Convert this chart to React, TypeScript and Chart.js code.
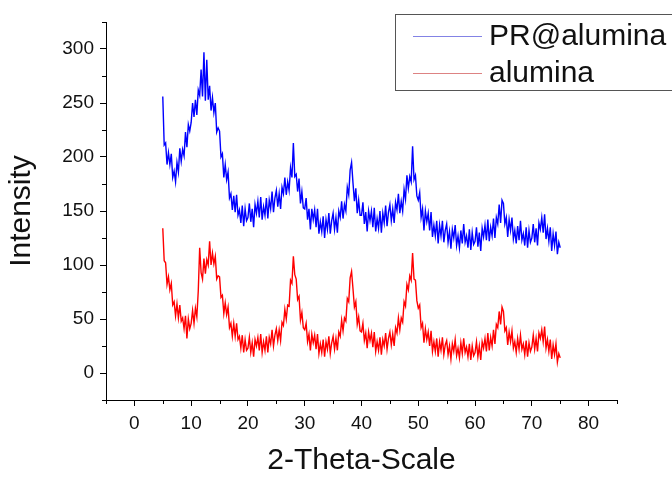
import { useEffect, useRef } from 'react';
import { Chart, registerables } from 'chart.js';

Chart.register(...registerables);

// 2-theta sampling grid of the values
const THETA_START = 5;
const THETA_STEP = 0.25;

const seriesLabels = ['PR@alumina', 'alumina'];
const seriesColors = ['#0000ff', '#ff0000'];
const legendLineColors = ['rgba(90,90,220,0.75)', 'rgba(210,90,90,0.75)'];

const xMajorTicks = [0, 10, 20, 30, 40, 50, 60, 70, 80];
const yMajorTicks = [0, 50, 100, 150, 200, 250, 300];

const xTitle = '2-Theta-Scale';
const yTitle = 'Intensity';

// PR@alumina, 5.00 .. 75.00 step 0.25
const prAlumina = [
  256, 211, 213, 193, 204, 193, 203, 181, 187, 177, 195, 186, 208, 196, 207, 201, 223, 209, 230, 224,
  232, 250, 237, 253, 239, 262, 257, 281, 256, 297, 252, 290, 253, 266, 243, 255, 241, 250, 223, 227,
  224, 200, 203, 181, 193, 179, 186, 162, 166, 151, 164, 149, 165, 146, 151, 139, 155, 136, 152, 141,
  144, 157, 140, 152, 135, 156, 148, 159, 144, 163, 142, 154, 146, 162, 143, 160, 152, 168, 149, 162,
  169, 154, 166, 152, 172, 166, 181, 165, 177, 169, 190, 181, 213, 182, 184, 168, 180, 157, 168, 153,
  152, 162, 142, 152, 133, 152, 142, 151, 135, 152, 129, 140, 131, 145, 125, 142, 133, 148, 129, 141,
  148, 133, 144, 130, 150, 144, 159, 143, 156, 150, 172, 165, 188, 195, 176, 159, 171, 148, 160, 146,
  146, 158, 138, 149, 131, 150, 141, 150, 135, 153, 131, 143, 134, 150, 130, 148, 139, 155, 136, 149,
  156, 141, 152, 139, 158, 151, 166, 148, 159, 150, 170, 161, 183, 171, 182, 177, 210, 179, 183, 164,
  160, 167, 144, 152, 132, 150, 140, 148, 132, 149, 126, 137, 127, 141, 120, 137, 127, 141, 121, 132,
  138, 121, 131, 115, 133, 125, 137, 118, 127, 116, 132, 120, 138, 121, 127, 116, 133, 114, 130, 119,
  122, 135, 117, 130, 113, 134, 126, 137, 123, 142, 122, 135, 127, 143, 125, 144, 138, 156, 139, 160,
  157, 138, 144, 126, 142, 132, 144, 124, 132, 120, 136, 123, 141, 123, 129, 118, 135, 116, 132, 121,
  125, 138, 121, 134, 118, 139, 133, 144, 130, 147, 124, 134, 122, 135, 113, 129, 118, 131, 110, 121,
  116,
];

// alumina, 5.00 .. 75.00 step 0.25
const alumina = [
  134, 104, 102, 82, 89, 77, 83, 63, 66, 53, 64, 51, 63, 48, 51, 41, 53, 32, 50, 41,
  46, 58, 46, 60, 52, 76, 116, 93, 87, 106, 92, 105, 100, 122, 100, 111, 101, 108, 87, 90,
  89, 70, 72, 55, 65, 54, 61, 42, 46, 34, 46, 34, 46, 31, 34, 23, 35, 19, 31, 21,
  23, 33, 19, 28, 15, 31, 25, 33, 21, 36, 19, 29, 21, 34, 19, 33, 27, 40, 25, 35,
  41, 30, 40, 30, 47, 44, 59, 50, 63, 62, 86, 83, 108, 91, 87, 68, 71, 49, 56, 42,
  40, 46, 29, 36, 21, 36, 28, 35, 22, 36, 18, 27, 19, 31, 15, 29, 22, 34, 18, 28,
  34, 22, 32, 21, 38, 34, 49, 39, 51, 48, 69, 66, 88, 94, 78, 61, 66, 45, 52, 39,
  38, 46, 30, 37, 23, 38, 30, 37, 24, 38, 20, 29, 21, 33, 17, 31, 25, 37, 22, 32,
  38, 26, 36, 25, 42, 37, 51, 40, 51, 47, 66, 62, 82, 77, 90, 86, 111, 87, 86, 67,
  60, 63, 42, 46, 28, 41, 31, 38, 25, 39, 20, 29, 20, 32, 15, 29, 21, 33, 17, 26,
  30, 17, 25, 13, 27, 20, 31, 16, 23, 14, 28, 18, 32, 19, 24, 15, 27, 12, 25, 16,
  19, 29, 15, 25, 12, 29, 23, 32, 20, 37, 21, 33, 25, 40, 27, 45, 42, 57, 45, 61,
  57, 39, 42, 26, 38, 29, 39, 23, 29, 19, 32, 22, 35, 22, 27, 17, 30, 15, 28, 20,
  24, 35, 22, 32, 20, 37, 32, 40, 29, 43, 23, 31, 20, 31, 13, 26, 17, 27, 10, 18,
  14,
];

const FONT = '"Liberation Sans", Arial, sans-serif';

const toPoints = (arr: number[]) =>
  arr.map((y, i) => ({ x: THETA_START + i * THETA_STEP, y }));

const minorTicksPlugin = {
  id: 'minorTicks',
  afterDraw(chart: any) {
    const ctx = chart.ctx;
    const xs = chart.scales.x;
    const ys = chart.scales.y;
    ctx.save();
    ctx.strokeStyle = '#000';
    ctx.lineWidth = 1;
    ctx.beginPath();
    xs.ticks.forEach((t: any) => {
      if (!xMajorTicks.includes(t.value)) {
        const px = Math.round(xs.getPixelForValue(t.value)) + 0.5;
        ctx.moveTo(px, ys.bottom);
        ctx.lineTo(px, ys.bottom + 4);
      }
    });
    ys.ticks.forEach((t: any) => {
      if (!yMajorTicks.includes(t.value)) {
        const py = Math.round(ys.getPixelForValue(t.value)) + 0.5;
        ctx.moveTo(xs.left, py);
        ctx.lineTo(xs.left - 4, py);
      }
    });
    ctx.stroke();
    ctx.restore();
  },
};

const boxLegendPlugin = {
  id: 'boxLegend',
  afterDraw(chart: any) {
    const ctx = chart.ctx;
    ctx.save();
    ctx.strokeStyle = '#555';
    ctx.lineWidth = 1;
    ctx.strokeRect(395.5, 14.5, 320, 76);
    const rows = [36, 73];
    chart.data.datasets.forEach((ds: any, i: number) => {
      const y = rows[i] + 0.5;
      ctx.strokeStyle = legendLineColors[i];
      ctx.beginPath();
      ctx.moveTo(413, y);
      ctx.lineTo(482, y);
      ctx.stroke();
      ctx.fillStyle = '#111';
      ctx.font = `30px ${FONT}`;
      ctx.textBaseline = 'middle';
      ctx.textAlign = 'left';
      ctx.fillText(ds.label, 489, rows[i] + 1);
    });
    ctx.restore();
  },
};

export default function App() {
  const canvasRef = useRef<HTMLCanvasElement | null>(null);

  useEffect(() => {
    if (!canvasRef.current) return;
    const chart = new Chart(canvasRef.current, {
      type: 'line',
      data: {
        datasets: [prAlumina, alumina].map((arr, i) => ({
          label: seriesLabels[i],
          data: toPoints(arr),
          borderColor: seriesColors[i],
          backgroundColor: seriesColors[i],
          borderWidth: 1.4,
          pointRadius: 0,
          tension: 0,
          fill: false,
        })),
      },
      options: {
        responsive: false,
        animation: false,
        devicePixelRatio: 1,
        layout: { padding: { top: 22, right: 55, left: 0, bottom: 0 } },
        plugins: {
          legend: { display: false },
          tooltip: { enabled: false },
          title: { display: false },
        },
        scales: {
          x: {
            type: 'linear',
            min: -5,
            max: 85,
            afterFit: (s: any) => {
              s.height = 79;
            },
            ticks: {
              stepSize: 5,
              autoSkip: false,
              maxRotation: 0,
              padding: 6,
              color: '#111',
              font: { family: FONT, size: 19 },
              callback: (v: any) => (xMajorTicks.includes(Number(v)) ? String(v) : ''),
            },
            grid: {
              drawOnChartArea: false,
              drawTicks: true,
              tickLength: 6,
              tickColor: (c: any) =>
                c.tick && xMajorTicks.includes(c.tick.value) ? '#000' : 'rgba(0,0,0,0)',
            },
            border: { display: true, color: '#000', width: 1 },
            title: {
              display: true,
              text: xTitle,
              color: '#111',
              font: { family: FONT, size: 30 },
              padding: { top: 0, bottom: 0 },
            },
          },
          y: {
            type: 'linear',
            min: -25,
            max: 325,
            afterFit: (s: any) => {
              s.width = 106;
            },
            ticks: {
              stepSize: 25,
              autoSkip: false,
              padding: 6,
              color: '#111',
              font: { family: FONT, size: 19 },
              callback: (v: any) => (yMajorTicks.includes(Number(v)) ? String(v) : ''),
            },
            grid: {
              drawOnChartArea: false,
              drawTicks: true,
              tickLength: 6,
              tickColor: (c: any) =>
                c.tick && yMajorTicks.includes(c.tick.value) ? '#000' : 'rgba(0,0,0,0)',
            },
            border: { display: true, color: '#000', width: 1 },
            title: {
              display: true,
              text: yTitle,
              color: '#111',
              font: { family: FONT, size: 30 },
              padding: { top: 4, bottom: 0 },
            },
          },
        },
      },
      plugins: [minorTicksPlugin, boxLegendPlugin],
    });
    return () => chart.destroy();
  }, []);

  return (
    <div style={{ position: 'fixed', left: 0, top: 0, width: 672, height: 479, background: '#fff' }}>
      <canvas ref={canvasRef} width={672} height={479} />
    </div>
  );
}
